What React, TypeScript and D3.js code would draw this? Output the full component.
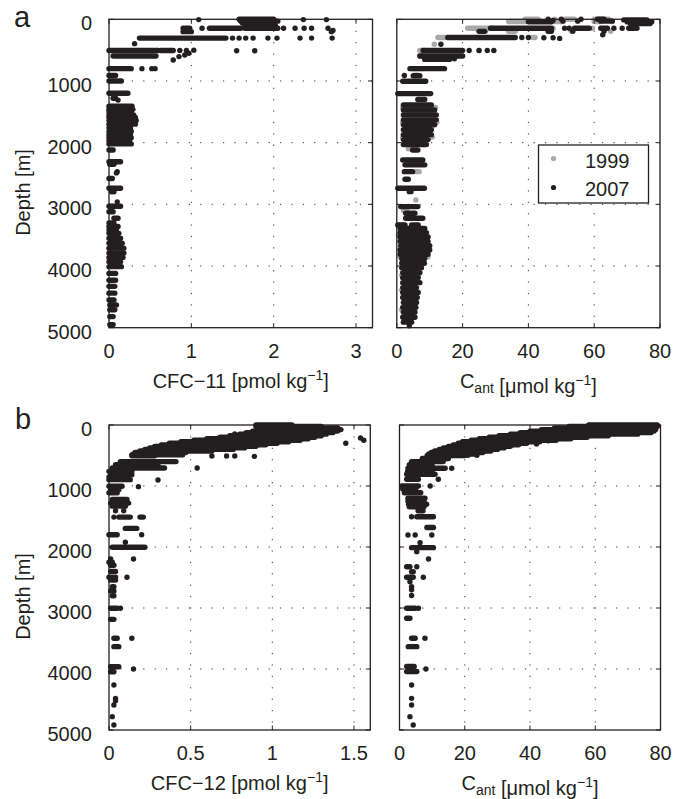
import React from "react";
import * as d3 from "d3";

// ---------- ticks ----------
const depthTicks = [0, 1000, 2000, 3000, 4000, 5000];
const cfc11Ticks = [0, 1, 2, 3];
const cfc12Ticks = [0, 0.5, 1, 1.5];
const cantTicks = [0, 20, 40, 60, 80];
const legendLabels = ["1999", "2007"];

// ---------- data: [depth, from, to] runs of overlapping samples, and [depth, value] points ----------
// Panel a, CFC-11 (pmol/kg)
const cfc11Runs: [number, number, number][] = [
  [0, 1.58, 2.0], [30, 1.6, 2.05], [60, 1.62, 1.92], [100, 1.65, 2.02],
  [145, 1.22, 1.6], [145, 1.65, 2.05], [145, 0.9, 0.98], [200, 0.9, 1.0],
  [305, 0.37, 1.42], [505, 0.0, 0.6], [505, 0.63, 0.78], [595, 0.05, 0.57],
  [800, 0.0, 0.27], [910, 0.0, 0.08], [1000, 0.0, 0.15], [1200, 0.0, 0.23], [1280, 0.05, 0.08],
  [1410, 0.0, 0.28], [1460, 0.0, 0.29], [1500, 0.0, 0.27], [1550, 0.0, 0.3], [1590, 0.0, 0.32],
  [1640, 0.0, 0.33], [1700, 0.0, 0.32], [1760, 0.0, 0.26], [1820, 0.0, 0.27], [1870, 0.0, 0.26],
  [1920, 0.0, 0.27], [1970, 0.0, 0.25], [2020, 0.0, 0.27],
  [2120, 0.0, 0.05], [2310, 0.0, 0.14], [2350, 0.01, 0.06], [2580, 0.0, 0.04], [2740, 0.0, 0.14],
  [2795, 0.03, 0.06], [3030, 0.0, 0.14], [3120, 0.0, 0.05], [3225, 0.06, 0.11], [3300, 0.0, 0.06],
  [3360, 0.0, 0.11], [3415, 0.0, 0.09], [3470, 0.0, 0.12], [3550, 0.0, 0.14], [3630, 0.0, 0.16],
  [3710, 0.0, 0.18], [3790, 0.0, 0.18], [3860, 0.0, 0.17], [3930, 0.0, 0.14], [4010, 0.0, 0.15],
  [4120, 0.0, 0.08], [4230, 0.0, 0.08], [4330, 0.0, 0.07], [4440, 0.0, 0.07], [4550, 0.0, 0.06],
  [4630, 0.01, 0.09], [4710, 0.01, 0.07], [4820, 0.01, 0.05], [4950, 0.01, 0.05],
];
const cfc11Points: [number, number][] = [
  [5, 1.09], [5, 2.36], [5, 2.64], [145, 1.13], [145, 2.12], [145, 2.26], [145, 2.37],
  [145, 2.46], [145, 2.66], [180, 2.72], [200, 2.7],
  [305, 1.5], [305, 1.58], [305, 1.66], [305, 1.75], [305, 1.93], [305, 2.04], [305, 2.32],
  [305, 2.46], [305, 2.71], [395, 0.31],
  [505, 0.86], [505, 0.94], [500, 1.03], [510, 1.55], [510, 1.77],
  [660, 0.78], [605, 0.85], [578, 0.92], [551, 0.97], [800, 0.4], [800, 0.52], [800, 0.56],
  [1310, 0.11], [2470, 0.1], [2490, 0.09], [2960, 0.1],
];

// Panel a, Cant (umol/kg), 1999 (grey) and 2007 (black)
const cant1999Runs: [number, number, number][] = [
  [0, 39, 43], [0, 51, 54], [0, 60, 64.5], [35, 34, 39], [35, 48, 50], [35, 60, 62],
  [145, 21.5, 29], [195, 26, 27], [195, 34, 36], [295, 12.5, 15.5], [295, 41.3, 42],
  [505, 7, 8.5], [595, 7, 8.5], [800, 4.8, 7.8], [905, 5.4, 6.4],
  [1430, 1.8, 11.8], [1670, 1.8, 12.2], [1910, 1.8, 10.8], [2100, 3.5, 4.5], [2300, 5.5, 7],
  [2470, 5.8, 6.8], [3100, 2, 3], [3330, 0.5, 2], [3500, 0.5, 8], [3850, 1, 9.5],
  [4150, 1.5, 6.5], [4390, 1.5, 6], [4710, 1.5, 5.5],
];
const cant1999Points: [number, number][] = [
  [0, 48], [35, 65.5], [145, 47.5], [145, 59.5], [195, 53], [195, 65], [405, 11.4],
  [505, 25], [1205, 6.5], [2930, 5.8],
];
const cant2007Runs: [number, number, number][] = [
  [10, 69, 76], [40, 70, 77.5], [70, 71, 77], [0, 61, 63], [30, 62, 65.5], [40, 40, 47],
  [145, 28.5, 47], [145, 54, 58.5], [145, 62, 64], [145, 70.5, 73], [195, 25, 26.7], [195, 46, 47],
  [295, 15.5, 36], [505, 8, 20], [595, 7, 20], [650, 8.5, 16], [800, 4, 14.5], [915, 5, 7],
  [1005, 1.8, 8.8], [1205, 0.3, 10.3], [1300, 6.4, 8.5],
  [1390, 2, 10.5], [1470, 2, 11.5], [1550, 2, 12], [1630, 2, 12], [1710, 2, 11.5],
  [1790, 2, 10.5], [1870, 2, 10.5], [1950, 2, 9.5], [2030, 2, 9],
  [2118, 4.8, 6.4], [2280, 1.8, 7.9], [2360, 2.5, 8.5], [2470, 2.3, 4.8], [2594, 2.5, 3.5],
  [2740, 0.3, 8.4], [2794, 3.8, 4.3], [3037, 1.2, 6.4], [3145, 2.7, 5.5], [3225, 2.7, 7.9],
  [3334, 0.3, 2.5], [3334, 4.5, 6.5], [3390, 1, 8.5], [3460, 1, 9], [3530, 1, 9.5], [3600, 1, 9.5],
  [3670, 1.2, 10], [3740, 1, 10], [3810, 1, 9.5], [3880, 1.5, 8.5], [3955, 1.5, 8.4],
  [4030, 1.5, 7.5], [4110, 1.8, 7], [4190, 1.8, 6.5], [4270, 1.8, 7], [4350, 1.8, 6],
  [4430, 1.8, 6.5], [4510, 1.8, 6.2], [4590, 2, 6], [4670, 1.8, 5.8], [4750, 2, 5.5],
  [4830, 1.8, 5.5], [4910, 2, 4.5],
];
const cant2007Points: [number, number][] = [
  [0, 46], [0, 50], [0, 56], [30, 50.5], [30, 55], [20, 47.5], [145, 51], [145, 52.4], [145, 66],
  [145, 68.5], [195, 53.5], [195, 63], [250, 62.6], [295, 38], [295, 40], [300, 44.7], [300, 47.5],
  [310, 49.5], [405, 13.4], [505, 22], [505, 25], [505, 27.5], [505, 29.5], [640, 17.5],
  [910, 2.3], [4970, 3.8],
];

// Panel b, CFC-12 (pmol/kg)
const cfc12Runs: [number, number, number][] = [
  [0, 0.9, 1.12], [25, 0.9, 1.3], [50, 0.91, 1.4], [75, 0.92, 1.42], [100, 0.88, 1.4],
  [125, 0.84, 1.37], [150, 0.8, 1.33], [175, 0.74, 1.3], [200, 0.68, 1.26], [225, 0.6, 1.22],
  [250, 0.52, 1.17], [275, 0.44, 1.1], [300, 0.37, 1.03], [325, 0.32, 0.96], [350, 0.28, 0.9],
  [375, 0.25, 0.83], [400, 0.22, 0.76], [425, 0.19, 0.63], [450, 0.16, 0.47], [475, 0.15, 0.38],
  [490, 0.14, 0.45], [505, 0.14, 0.28],
  [600, 0.07, 0.41], [650, 0.04, 0.3], [705, 0.02, 0.34], [760, 0.0, 0.14], [815, 0.01, 0.14],
  [850, 0.0, 0.12], [896, 0.0, 0.13], [1005, 0.0, 0.08], [1060, 0.01, 0.06], [1110, 0.0, 0.05],
  [1220, 0.02, 0.11], [1280, 0.01, 0.12], [1330, 0.02, 0.1], [1510, 0.06, 0.13], [1510, 0.19, 0.21],
  [1695, 0.1, 0.17], [1800, 0.0, 0.05], [2005, 0.02, 0.22], [2250, 0.0, 0.02], [2300, 0.01, 0.03],
  [2400, 0.01, 0.04], [2497, 0.0, 0.04], [2541, 0.01, 0.04], [2650, 0.02, 0.03], [2720, 0.01, 0.03],
  [2800, 0.02, 0.03], [3005, 0.01, 0.05], [3186, 0.01, 0.03], [3497, 0.03, 0.05], [3634, 0.03, 0.06],
  [3962, 0.01, 0.06], [4044, 0.01, 0.03],
];
const cfc12Points: [number, number][] = [
  [148, 0.77], [300, 1.45], [213, 1.54], [250, 1.56], [508, 0.63], [508, 0.72], [508, 0.77],
  [514, 0.89], [705, 0.54], [902, 0.3], [1011, 0.18], [1405, 0.04], [1405, 0.09], [1510, 0.03],
  [1800, 0.2], [1923, 0.1], [2197, 0.01], [2197, 0.15], [2497, 0.11], [3005, 0.07], [3497, 0.14],
  [4000, 0.15], [4262, 0.03], [4481, 0.04], [4520, 0.04], [4590, 0.03], [4781, 0.02], [4918, 0.03],
];

// Panel b, Cant (umol/kg)
const cantBRuns: [number, number, number][] = [
  [0, 58, 79], [25, 52, 79], [50, 47.5, 78.5], [75, 43.5, 78.5], [100, 40, 78], [125, 37, 77],
  [150, 34, 73], [175, 30.5, 64], [200, 27.5, 57.5], [225, 24.5, 52.5], [250, 22, 48],
  [275, 19.3, 43], [300, 18, 39], [325, 16.5, 36.5], [350, 15, 34], [375, 13.5, 32],
  [400, 12.2, 30], [425, 10.8, 28], [450, 9.8, 25.5], [475, 9, 23], [500, 8.5, 20],
  [550, 7, 15], [600, 3.7, 13.4], [650, 3, 10], [710, 2.6, 14], [760, 2.5, 10], [808, 2.2, 10.9],
  [890, 2.2, 5.8], [1000, 0.7, 5.8], [1050, 1, 5], [1110, 1.5, 6.5], [1200, 2.6, 7.8],
  [1250, 2.6, 7.5], [1300, 2.8, 8.3], [1340, 3, 7.5], [1405, 5.7, 7.2], [1503, 5.3, 10.4],
  [1680, 8.4, 10.4], [2011, 3.7, 10.4], [2323, 2.2, 3.2], [2405, 3.7, 4.2], [2497, 2.2, 4.2],
  [3005, 2.2, 4.8], [3169, 2.2, 3.2], [3497, 3.7, 4.8], [3634, 2.7, 5.3], [3960, 2.2, 4.5],
  [4040, 2.2, 5.3],
];
const cantBPoints: [number, number][] = [
  [202, 53.3], [257, 45.6], [311, 42], [497, 21], [497, 23.7], [710, 16], [890, 11.9], [1000, 9.4],
  [1503, 3.7], [1803, 2.6], [1803, 4.8], [1803, 9.9], [1929, 6.3], [2076, 5.3], [2197, 8.9],
  [2323, 5.3], [2497, 7.3], [2569, 3.2], [2650, 3.7], [2700, 3.7], [2795, 3.7], [3005, 5.8],
  [3497, 7.8], [4000, 8.1], [4262, 3.7], [4481, 3.7], [4590, 3.7], [4781, 3.2], [4918, 4.2],
];

// ---------- styling ----------
const INK = "#231f20";
const GREY = "#a9a9a9";
const FONT = "'Liberation Sans', Arial, Helvetica, sans-serif";
const R = 2.7;

type Series = { color: string; runs: [number, number, number][]; points: [number, number][] };

function Panel(props: {
  x0: number; x1: number; y0: number; y1: number; xMax: number; xTicks: number[];
  series: Series[]; yLabels: boolean; xLabel: React.ReactNode;
}) {
  const { x0, x1, y0, y1, xMax, xTicks, series, yLabels, xLabel } = props;
  const x = d3.scaleLinear().domain([0, xMax]).range([x0, x1]);
  const y = d3.scaleLinear().domain([0, 5000]).range([y0, y1]);
  const tl = 4.5;
  return (
    <g>
      {xTicks.filter((t) => t > 0 && t < xMax).map((t) => (
        <line key={"gx" + t} x1={x(t)} x2={x(t)} y1={y0} y2={y1} stroke="#333" strokeWidth={1}
          strokeDasharray="1.2 10.2" />
      ))}
      {depthTicks.filter((t) => t > 0 && t < 5000).map((t) => (
        <line key={"gy" + t} x1={x0} x2={x1} y1={y(t)} y2={y(t)} stroke="#333" strokeWidth={1}
          strokeDasharray="1.2 10.2" />
      ))}
      {series.map((s, si) => (
        <g key={si} fill={s.color} stroke={s.color}>
          {s.runs.map((r, i) => (
            <line key={"r" + i} x1={x(r[1])} x2={x(r[2])} y1={y(r[0])} y2={y(r[0])}
              strokeWidth={2 * R} strokeLinecap="round" />
          ))}
          {s.points.map((p, i) => (
            <circle key={"p" + i} cx={x(p[1])} cy={y(p[0])} r={R} stroke="none" />
          ))}
        </g>
      ))}
      <rect x={x0} y={y0} width={x1 - x0} height={y1 - y0} fill="none" stroke={INK} strokeWidth={1.3} />
      {xTicks.map((t) => (
        <g key={"tx" + t}>
          <line x1={x(t)} x2={x(t)} y1={y1} y2={y1 - tl} stroke={INK} strokeWidth={1} />
          <line x1={x(t)} x2={x(t)} y1={y0} y2={y0 + tl} stroke={INK} strokeWidth={1} />
          <text x={x(t)} y={y1 + 30} textAnchor="middle" fontSize={20} fill={INK}>{String(t)}</text>
        </g>
      ))}
      {depthTicks.map((t) => (
        <g key={"ty" + t}>
          <line x1={x0} x2={x0 + tl} y1={y(t)} y2={y(t)} stroke={INK} strokeWidth={1} />
          <line x1={x1} x2={x1 - tl} y1={y(t)} y2={y(t)} stroke={INK} strokeWidth={1} />
          {yLabels && (
            <text x={x0 - 17} y={y(t) + 11} textAnchor="end" fontSize={20} fill={INK}>{t}</text>
          )}
        </g>
      ))}
      <text x={(x0 + x1) / 2} y={y1 + 60} textAnchor="middle" fontSize={20} fill={INK}>{xLabel}</text>
    </g>
  );
}

const unitLabel = (pre: React.ReactNode, unit: string) => (
  <>
    {pre}
    <tspan>{" [" + unit + " kg"}</tspan>
    <tspan fontSize={14} dy={-8}>−1</tspan>
    <tspan dy={8}>]</tspan>
  </>
);
const cantLabel = unitLabel(
  <>
    <tspan>C</tspan>
    <tspan fontSize={14} dy={5}>ant</tspan>
    <tspan dy={-5}>{""}</tspan>
  </>,
  "μmol"
);

export default function App() {
  const aTop = 19.3, aBot = 327.7, bTop = 425, bBot = 730;
  return (
    <svg width={673} height={799} style={{ position: "absolute", left: 0, top: 0, background: "#fff" }}
      fontFamily={FONT}>
      <rect width={673} height={799} fill="#fff" />
      <text x={14} y={27} fontSize={29} fill={INK}>a</text>
      <text x={15} y={429} fontSize={29} fill={INK}>b</text>
      <text transform={`translate(29.5,${(aTop + aBot) / 2 + 19}) rotate(-90)`} textAnchor="middle"
        fontSize={20} fill={INK}>Depth [m]</text>
      <text transform={`translate(29.5,${(bTop + bBot) / 2 + 19}) rotate(-90)`} textAnchor="middle"
        fontSize={20} fill={INK}>Depth [m]</text>

      <Panel x0={109} x1={372.5} y0={aTop} y1={aBot} xMax={3.2} xTicks={cfc11Ticks} yLabels
        series={[{ color: INK, runs: cfc11Runs, points: cfc11Points }]}
        xLabel={unitLabel(<tspan>CFC−11</tspan>, "pmol")} />
      <Panel x0={396.8} x1={660} y0={aTop} y1={aBot} xMax={80} xTicks={cantTicks} yLabels={false}
        series={[
          { color: GREY, runs: cant1999Runs, points: cant1999Points },
          { color: INK, runs: cant2007Runs, points: cant2007Points },
        ]}
        xLabel={cantLabel} />
      <Panel x0={109} x1={370.3} y0={bTop} y1={bBot} xMax={1.6} xTicks={cfc12Ticks} yLabels
        series={[{ color: INK, runs: cfc12Runs, points: cfc12Points }]}
        xLabel={unitLabel(<tspan>CFC−12</tspan>, "pmol")} />
      <Panel x0={399.5} x1={660.5} y0={bTop} y1={bBot} xMax={80} xTicks={cantTicks} yLabels={false}
        series={[{ color: INK, runs: cantBRuns, points: cantBPoints }]}
        xLabel={cantLabel} />

      <g>
        <rect x={538.5} y={145} width={110} height={58} fill="#fff" stroke={INK} strokeWidth={1.3} />
        <circle cx={553.5} cy={158.5} r={2.6} fill={GREY} />
        <circle cx={553.5} cy={187.5} r={2.6} fill={INK} />
        <text x={585} y={167.5} fontSize={20} fill={INK}>{legendLabels[0]}</text>
        <text x={585} y={196} fontSize={20} fill={INK}>{legendLabels[1]}</text>
      </g>
    </svg>
  );
}
